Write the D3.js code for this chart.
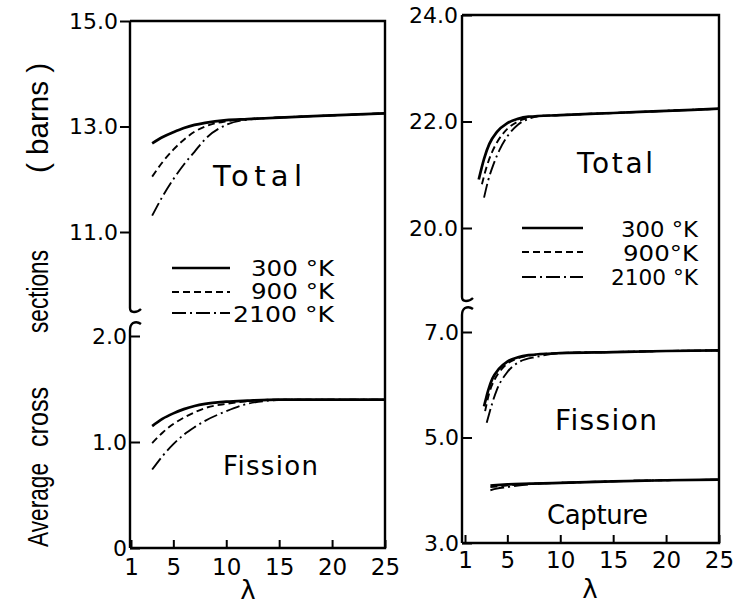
<!DOCTYPE html>
<html>
<head>
<meta charset="utf-8">
<script src="https://cdn.jsdelivr.net/npm/d3@7"></script>
<style>
  html, body { margin: 0; padding: 0; background: #fff; }
  svg { display: block; }
</style>
</head>
<body>
<svg id="chart" width="738" height="607"></svg>
<script>
// ---- data -------------------------------------------------------------
const lambdaTicks = [1, 5, 10, 15, 20, 25];
const leftTotalTicks = [11, 13, 15];
const leftFissionTicks = [0, 1, 2];
const rightTotalTicks = [20, 22, 24];
const rightLowerTicks = [3, 5, 7];
const temperatures = ["300 °K", "900 °K", "2100 °K"];
const rightLegendLabels = ["300 °K", "900°K", "2100 °K"];

// [lambda, average cross section (barns)]
const leftTotal300 = [[3,12.68],[4,12.8],[5,12.89],[6,12.97],[7,13.03],[8,13.07],[10,13.12],[12,13.14],[15,13.17],[20,13.21],[25,13.25]];
const leftTotal900 = [[3,12.05],[4,12.33],[5,12.56],[6,12.75],[7,12.9],[8,13.0],[10,13.1],[12,13.14],[15,13.17],[20,13.21],[25,13.25]];
const leftTotal2100 = [[3,11.31],[4,11.68],[5,12.0],[6,12.28],[7,12.52],[8,12.76],[10,13.03],[12,13.13],[15,13.17],[20,13.21],[25,13.25]];

const leftFission300 = [[3,1.15],[4,1.22],[5,1.27],[6,1.31],[7,1.34],[8,1.36],[10,1.38],[12,1.39],[15,1.4],[20,1.4],[25,1.4]];
const leftFission900 = [[3,0.99],[4,1.09],[5,1.17],[6,1.23],[7,1.28],[8,1.32],[10,1.36],[12,1.385],[15,1.4],[20,1.4],[25,1.4]];
const leftFission2100 = [[3,0.74],[4,0.87],[5,0.98],[6,1.07],[7,1.14],[8,1.2],[10,1.29],[12,1.36],[14,1.39],[16,1.4],[20,1.4],[25,1.4]];

const rightTotal300 = [[2.3,20.91],[2.8,21.3],[3.3,21.58],[4,21.8],[5,21.97],[6,22.05],[7,22.09],[10,22.12],[15,22.16],[20,22.2],[25,22.24]];
const rightTotal900 = [[2.6,20.82],[3,21.12],[3.5,21.4],[4,21.6],[5,21.86],[6,22.0],[7,22.07],[8,22.1],[10,22.12],[15,22.16],[20,22.2],[25,22.24]];
const rightTotal2100 = [[2.8,20.57],[3.2,20.9],[3.7,21.2],[4.3,21.48],[5,21.72],[6,21.94],[7,22.05],[8,22.1],[10,22.12],[15,22.16],[20,22.2],[25,22.24]];

const rightFission300 = [[2.8,5.59],[3.2,5.9],[3.6,6.12],[4.2,6.3],[5,6.44],[6,6.52],[7,6.56],[10,6.6],[15,6.62],[20,6.64],[25,6.65]];
const rightFission900 = [[2.9,5.5],[3.3,5.85],[3.8,6.1],[4.4,6.28],[5,6.4],[6,6.5],[7,6.55],[10,6.6],[15,6.62],[20,6.64],[25,6.65]];
const rightFission2100 = [[3.05,5.28],[4,5.9],[5,6.24],[6.2,6.44],[7.8,6.53],[10,6.6],[15,6.62],[20,6.64],[25,6.65]];

const capture300 = [[3.4,4.09],[5,4.11],[10,4.14],[15,4.17],[20,4.19],[25,4.2]];
const capture900 = [[3.4,4.06],[4.5,4.08],[6,4.11],[8,4.13],[10,4.14],[15,4.17],[20,4.19],[25,4.2]];
const capture2100 = [[3.4,4.0],[4,4.03],[5,4.06],[6,4.09],[7,4.11],[8,4.125],[10,4.14],[15,4.17],[20,4.19],[25,4.2]];

// ---- drawing ------------------------------------------------------------
const svg = d3.select("#chart");
const tickFont = "DejaVu Sans, sans-serif";
const styles = [
  { width: 2.7, dash: null },
  { width: 1.9, dash: "7,4" },
  { width: 1.9, dash: "14,4,2,4" }
];

const panels = [
  {
    x: d3.scaleLinear().domain([1, 25]).range([131, 385]),
    left: 130, right: 385,
    upper: d3.scaleLinear().domain([11, 15]).range([232, 21]),
    lower: d3.scaleLinear().domain([0, 2]).range([548, 336]),
    upperTicks: leftTotalTicks, lowerTicks: leftFissionTicks,
    upperOut: true, breakTop: 311, breakBottom: 323,
    series: [
      { scale: "upper", data: [leftTotal300, leftTotal900, leftTotal2100] },
      { scale: "lower", data: [leftFission300, leftFission900, leftFission2100] }
    ],
    labelPad: 11
  },
  {
    x: d3.scaleLinear().domain([1, 25]).range([465, 719]),
    left: 462, right: 719,
    upper: d3.scaleLinear().domain([20, 24]).range([228, 15]),
    lower: d3.scaleLinear().domain([3, 7]).range([543, 332]),
    upperTicks: rightTotalTicks, lowerTicks: rightLowerTicks,
    upperOut: false, breakTop: 300, breakBottom: 308,
    series: [
      { scale: "upper", data: [rightTotal300, rightTotal900, rightTotal2100] },
      { scale: "lower", data: [rightFission300, rightFission900, rightFission2100] },
      { scale: "lower", data: [capture300, capture900, capture2100] }
    ],
    labelPad: 9
  }
];

function styleAxis(g, size) {
  g.attr("font-family", tickFont).attr("font-size", size);
  g.select(".domain").remove();
  g.selectAll(".tick line").attr("stroke", "#000").attr("stroke-width", 2);
  g.selectAll(".tick text").attr("fill", "#000");
}

panels.forEach(p => {
  const top = p.upper.range()[1];
  const bottom = p.lower.range()[0];
  const L = p.left, R = p.right;

  // frame: top, right, bottom edges
  svg.append("path")
    .attr("d", `M${L},${top} L${R},${top} L${R},${bottom} L${L},${bottom}`)
    .attr("fill", "none").attr("stroke", "#000").attr("stroke-width", 2.4);

  // broken left axis with little curls at the break
  svg.append("path")
    .attr("d", `M${L},${top} L${L},${p.breakTop - 3} Q${L},${p.breakTop + 1} ${L + 4},${p.breakTop + 1} Q${L + 8},${p.breakTop + 1} ${L + 11},${p.breakTop - 2}`)
    .attr("fill", "none").attr("stroke", "#000").attr("stroke-width", 2.4);
  svg.append("path")
    .attr("d", `M${L + 11},${p.breakBottom + 1} Q${L + 7},${p.breakBottom - 2} ${L + 3},${p.breakBottom} Q${L},${p.breakBottom + 2} ${L},${p.breakBottom + 7} L${L},${bottom}`)
    .attr("fill", "none").attr("stroke", "#000").attr("stroke-width", 2.4);

  // y axes
  const upAxis = d3.axisLeft(p.upper).tickValues(p.upperTicks)
    .tickFormat(d3.format(".1f"));
  if (p.upperOut) upAxis.tickSize(10).tickPadding(2);
  else upAxis.tickSizeInner(-10).tickSizeOuter(0).tickPadding(4);
  svg.append("g").attr("transform", `translate(${L},0)`).call(upAxis).call(g => styleAxis(g, 22));

  const lowAxis = d3.axisLeft(p.lower).tickValues(p.lowerTicks)
    .tickFormat(d => d === 0 ? "0" : d3.format(".1f")(d))
    .tickSizeInner(-10).tickSizeOuter(0).tickPadding(3);
  svg.append("g").attr("transform", `translate(${L},0)`).call(lowAxis).call(g => styleAxis(g, 22));

  // lambda axis
  const xAxis = d3.axisBottom(p.x).tickValues(lambdaTicks)
    .tickFormat(d3.format("d")).tickSizeInner(-8).tickSizeOuter(0).tickPadding(p.labelPad);
  svg.append("g").attr("transform", `translate(0,${bottom})`).call(xAxis).call(g => styleAxis(g, 23));

  // curves: dashed ones first so the solid 300 °K curve stays on top
  p.series.forEach(s => {
    const y = p[s.scale];
    const line = d3.line().x(d => p.x(d[0])).y(d => y(d[1])).curve(d3.curveMonotoneX);
    [2, 1, 0].forEach(i => {
      svg.append("path")
        .attr("d", line(s.data[i]))
        .attr("fill", "none").attr("stroke", "#000")
        .attr("stroke-width", styles[i].width)
        .attr("stroke-dasharray", styles[i].dash)
        .attr("stroke-linecap", "butt");
    });
  });
});

// ---- legends ------------------------------------------------------------
function legend(x0, x1, lineYs, textX, baselines, labels, lengths, size) {
  labels.forEach((lab, i) => {
    svg.append("line")
      .attr("x1", x0).attr("x2", x1).attr("y1", lineYs[i]).attr("y2", lineYs[i])
      .attr("stroke", "#000").attr("stroke-width", styles[i].width)
      .attr("stroke-dasharray", styles[i].dash);
    svg.append("text")
      .attr("x", textX - lengths[i]).attr("y", baselines[i])
      .attr("font-family", tickFont).attr("font-size", size)
      .attr("textLength", lengths[i]).attr("lengthAdjust", "spacingAndGlyphs")
      .text(lab);
  });
}
legend(172, 230, [268, 292, 313], 334, [276, 299, 322], temperatures, [83, 83, 101], 21);
legend(522, 583, [228, 252, 277], 698, [237, 261, 285], rightLegendLabels, [77, 75, 87], 22);

// ---- reaction labels ------------------------------------------------------
const reactionLabels = [
  { text: "Total",   x: 213, y: 186, size: 29, len: 89 },
  { text: "Fission", x: 223, y: 475, size: 26, len: 95 },
  { text: "Total",   x: 577, y: 173, size: 28, len: 76 },
  { text: "Fission", x: 555, y: 430, size: 28, len: 102 },
  { text: "Capture", x: 547, y: 524, size: 26, len: 101 }
];
reactionLabels.forEach(l => {
  svg.append("text")
    .attr("x", l.x).attr("y", l.y)
    .attr("font-family", tickFont).attr("font-size", l.size)
    .attr("textLength", l.len).attr("lengthAdjust", "spacing")
    .text(l.text);
});

// ---- axis titles ------------------------------------------------------------
const yTitle = svg.append("g").attr("transform", "translate(48,0) rotate(-90)");
[
  { w: "Average", from: 463, to: 547 },
  { w: "cross", from: 387, to: 447 },
  { w: "sections", from: 250, to: 333 },
  { w: "( barns )", from: 63, to: 173 }
].forEach(t => {
  yTitle.append("text")
    .attr("x", -t.to).attr("y", 0)
    .attr("font-family", "Liberation Sans, Arial, sans-serif")
    .attr("font-size", 30)
    .attr("textLength", t.to - t.from).attr("lengthAdjust", "spacingAndGlyphs")
    .text(t.w);
});

[[248, 599], [590, 598]].forEach(([x, y]) => {
  svg.append("text")
    .attr("x", x).attr("y", y).attr("text-anchor", "middle")
    .attr("font-family", tickFont).attr("font-size", 26)
    .text("λ");
});
</script>
</body>
</html>
